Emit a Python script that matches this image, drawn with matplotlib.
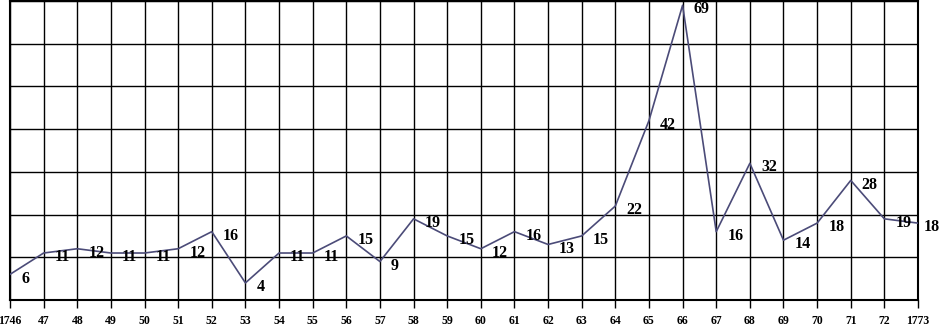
import matplotlib

matplotlib.use("Agg")
import matplotlib.pyplot as plt
from matplotlib.transforms import offset_copy

years = list(range(1746, 1774))
counts = [6, 11, 12, 11, 11, 12, 16, 4, 11, 11, 15, 9, 19, 15, 12, 16, 13, 15,
          22, 42, 69, 16, 32, 14, 18, 28, 19, 18]
tick_labels = ["1746"] + [str(y)[2:] for y in years[1:-1]] + ["1773"]

W, H = 941, 327
fig = plt.figure(figsize=(W / 100, H / 100), dpi=100)
ax = fig.add_axes([10 / W, (H - 300) / H, 908 / W, 299 / H])

ax.plot(years, counts, color="#4b4b78", linewidth=1.2, zorder=3)

ax.set_xlim(years[0], years[-1])
ax.set_ylim(0, 70)
ax.set_xticks(years)
ax.set_xticklabels(tick_labels, fontfamily="Liberation Serif",
                   fontweight="bold", fontsize=8.5)
ax.set_yticks(range(0, 71, 10))
ax.tick_params(axis="y", length=0, labelleft=False)
ax.tick_params(axis="x", length=6, width=1, direction="out", pad=5)
ax.grid(True, color="black", linewidth=1)
for side in ax.spines.values():
    side.set_linewidth(1.5)
    side.set_color("black")

lbl = offset_copy(ax.transData, fig=fig, x=8, y=-3, units="points")
lbl_last = offset_copy(ax.transData, fig=fig, x=4, y=-3, units="points")
for i, (yr, c) in enumerate(zip(years, counts)):
    ax.text(yr, c, str(c), transform=lbl_last if i == len(years) - 1 else lbl,
            ha="left", va="center", fontfamily="Liberation Serif",
            fontweight="bold", fontsize=11.5, clip_on=False, zorder=4)

fig.savefig("out.png", dpi=100)
